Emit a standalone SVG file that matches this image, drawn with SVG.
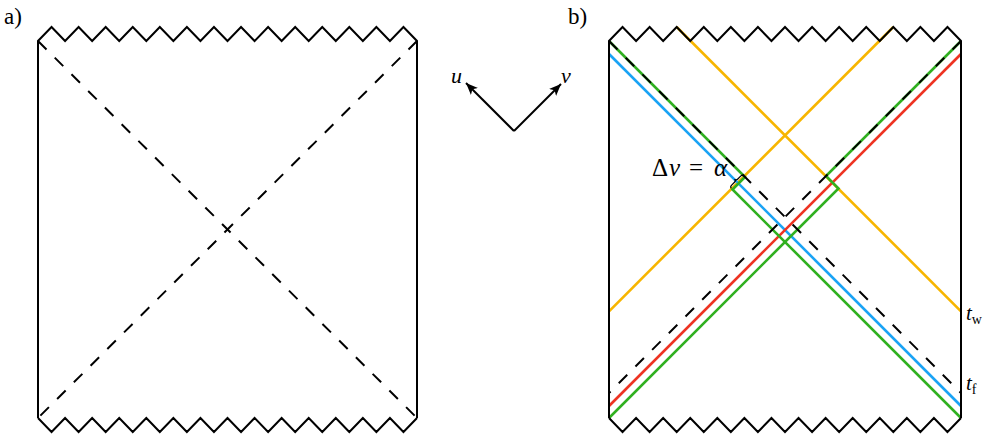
<svg xmlns="http://www.w3.org/2000/svg" width="990" height="438" viewBox="0 0 990 438">
<defs>
<style>
.frame{fill:none;stroke:#000;stroke-width:2;stroke-linejoin:miter;stroke-linecap:butt}
.dash{fill:none;stroke:#000;stroke-width:2;stroke-dasharray:12 11.6}
.yel{fill:none;stroke:#f7b500;stroke-width:2.6}
.blu{fill:none;stroke:#1aa3f5;stroke-width:2.6}
.red{fill:none;stroke:#ee3322;stroke-width:2.6}
.grn{fill:none;stroke:#30b020;stroke-width:2.6;stroke-linejoin:miter}
.lbl{font-family:"Liberation Serif","DejaVu Serif",serif;fill:#000}
.it{font-style:italic}
.axis{fill:none;stroke:#000;stroke-width:2}
</style>
<marker id="ah" markerUnits="userSpaceOnUse" markerWidth="14" markerHeight="12" refX="12" refY="5" orient="auto">
<path d="M0,0 L12,5 L0,10 L3,5 Z" fill="#000"/>
</marker>
</defs>
<rect width="990" height="438" fill="#fff"/>

<g id="panel-a">
<line class="dash" x1="38" y1="41" x2="417" y2="418"/>
<line class="dash" x1="417" y1="41" x2="38" y2="418"/>
<polyline class="frame" points="38,418 38,41 51.54,27 65.07,41 78.61,27 92.14,41 105.68,27 119.21,41 132.75,27 146.29,41 159.82,27 173.36,41 186.89,27 200.43,41 213.96,27 227.5,41 241.04,27 254.57,41 268.11,27 281.64,41 295.18,27 308.71,41 322.25,27 335.79,41 349.32,27 362.86,41 376.39,27 389.93,41 403.46,27 417,41 417,418"/>
<polyline class="frame" points="38,418 51.54,432 65.07,418 78.61,432 92.14,418 105.68,432 119.21,418 132.75,432 146.29,418 159.82,432 173.36,418 186.89,432 200.43,418 213.96,432 227.5,418 241.04,432 254.57,418 268.11,432 281.64,418 295.18,432 308.71,418 322.25,432 335.79,418 349.32,432 362.86,418 376.39,432 389.93,418 403.46,432 417,418"/>
</g>

<g id="axes">
<line class="axis" x1="514" y1="131" x2="466" y2="83" marker-end="url(#ah)"/>
<line class="axis" x1="514" y1="131" x2="561" y2="84" marker-end="url(#ah)"/>
<text class="lbl it" x="451" y="83" font-size="22">u</text>
<text class="lbl it" x="561" y="83" font-size="22">v</text>
</g>

<g id="panel-b">
<g id="connectors">
<line class="yel" x1="676.69" y1="27" x2="961" y2="311.31"/>
<line class="yel" x1="893.31" y1="27" x2="609" y2="311.31"/>
<line class="blu" x1="609" y1="54" x2="961" y2="406"/>
<line class="red" x1="609" y1="406" x2="961" y2="54"/>
<path class="grn" d="M609,41 L745,177 L732.5,189.5 L961,418"/>
<path class="grn" d="M609,418 L838.5,188.5 L826,176 L961,41"/>
<line class="dash" x1="609" y1="41" x2="961" y2="393"/>
<line class="dash" x1="961" y1="41" x2="609" y2="393"/>
</g>
<polyline class="frame" points="609,418 609,41 622.54,27 636.08,41 649.62,27 663.15,41 676.69,27 690.23,41 703.77,27 717.31,41 730.85,27 744.38,41 757.92,27 771.46,41 785,27 798.54,41 812.08,27 825.62,41 839.15,27 852.69,41 866.23,27 879.77,41 893.31,27 906.85,41 920.38,27 933.92,41 947.46,27 961,41 961,418"/>
<polyline class="frame" points="609,418 622.54,432 636.08,418 649.62,432 663.15,418 676.69,432 690.23,418 703.77,432 717.31,418 730.85,432 744.38,418 757.92,432 771.46,418 785,432 798.54,418 812.08,432 825.62,418 839.15,432 852.69,418 866.23,432 879.77,418 893.31,432 906.85,418 920.38,432 933.92,418 947.46,432 961,418"/>
<path d="M0,0 Q0,-2 2.5,-2 L6.5,-2 Q8.85,-2 8.85,-4.2 Q8.85,-2 11.2,-2 L15.2,-2 Q17.7,-2 17.7,0" fill="none" stroke="#000" stroke-width="1.2" transform="translate(731.3,188.3) rotate(-45)"/>
<text class="lbl" y="176" font-size="25"><tspan x="652">Δ</tspan><tspan class="it" x="669">v</tspan><tspan x="689">=</tspan><tspan class="it" x="714">α</tspan></text>
<text class="lbl it" x="966" y="320" font-size="21">t<tspan font-style="normal" font-size="14" dy="4">w</tspan></text>
<text class="lbl it" x="966" y="390" font-size="21">t<tspan font-style="normal" font-size="14" dy="4">f</tspan></text>
</g>

<g id="panel-labels">
<text class="lbl" x="4" y="24" font-size="23">a)</text>
<text class="lbl" x="568" y="24" font-size="23">b)</text>
</g>
</svg>
